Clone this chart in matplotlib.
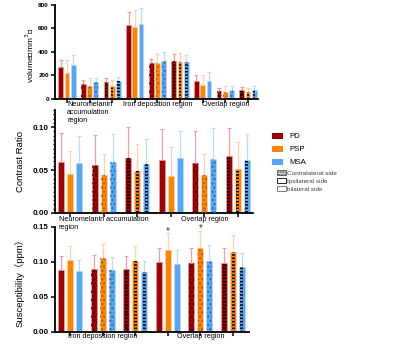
import numpy as np
import matplotlib
matplotlib.use("Agg")
import matplotlib.pyplot as plt
from matplotlib.patches import Patch
from matplotlib.ticker import MultipleLocator, FormatStrFormatter

plt.rcParams['font.family'] = ['Liberation Sans', 'Noto Sans CJK SC', 'DejaVu Sans']
plt.rcParams['hatch.linewidth'] = 1.1

# ---------------- data ----------------
groups = ['PD', 'PSP', 'MSA']
# side pattern of each bar group: bilateral / contralateral / ipsilateral
vol_sides = ['bi', 'contra', 'ipsi'] * 3
side_pattern = ['bi', 'contra', 'ipsi'] * 2

vol_regions = ['Neuromelanin\naccumulation\nregion', 'Iron deposition region', 'Overlap region']
vol_pd = [270, 125, 145, 625, 305, 325, 155, 71, 77]
vol_pd_sd = [60, 35, 35, 110, 35, 55, 50, 20, 23]
vol_psp = [220, 110, 110, 610, 305, 310, 120, 57, 57]
vol_psp_sd = [110, 65, 55, 150, 75, 80, 85, 53, 34]
vol_msa = [290, 140, 150, 635, 325, 315, 155, 77, 77]
vol_msa_sd = [85, 40, 40, 140, 75, 60, 75, 33, 33]

cr_regions = ['Neuromelanin accumulation\nregion', 'Overlap region']
cr_pd = [0.0596, 0.0554, 0.0635, 0.0623, 0.0585, 0.0662]
cr_pd_sd = [0.034, 0.036, 0.037, 0.035, 0.0375, 0.0334]
cr_psp = [0.0454, 0.0442, 0.0485, 0.0427, 0.0442, 0.0512]
cr_psp_sd = [0.0273, 0.0246, 0.0323, 0.0346, 0.0248, 0.0311]
cr_msa = [0.0585, 0.0592, 0.0565, 0.0635, 0.0627, 0.0615]
cr_msa_sd = [0.0307, 0.0331, 0.0293, 0.0315, 0.0358, 0.030]

sus_regions = ['Iron deposition region', 'Overlap region']
sus_pd = [0.089, 0.090, 0.090, 0.0995, 0.099, 0.0986]
sus_pd_sd = [0.020, 0.020, 0.019, 0.0205, 0.021, 0.0214]
sus_psp = [0.1033, 0.105, 0.1014, 0.1176, 0.120, 0.1138]
sus_psp_sd = [0.0197, 0.021, 0.0216, 0.0238, 0.0248, 0.0252]
sus_msa = [0.0876, 0.089, 0.085, 0.0976, 0.102, 0.0929]
sus_msa_sd = [0.0157, 0.0177, 0.017, 0.0191, 0.022, 0.020]
sus_star_psp = [3, 4]   # groups with * above PSP

colors = ['#a00000', '#ff8400', '#55a7f7']
light = ['#e6a3a3', '#ffd3a6', '#bcdcfb']
dot_col = ['#560000', '#b35a00', '#2a6fbf']


def draw_panel(ax, means, sds, sides, gstep, width, fs):
    ax.set_facecolor('none')
    n = len(sides)
    centers = np.arange(n) * gstep
    for k in range(3):
        xs = centers + (k - 1)
        ax.errorbar(xs, means[k], yerr=[np.zeros(n), sds[k]], fmt='none',
                    ecolor=light[k], elinewidth=0.9, capsize=1.6, capthick=0.9, zorder=1)
        ax.bar(xs, means[k], width=width, color=colors[k], edgecolor=light[k],
               linewidth=0.5, zorder=2)
        for i, s in enumerate(sides):
            if s == 'contra':
                ax.bar(xs[i], means[k][i], width=width * 0.8, fill=False, hatch='....',
                       edgecolor=dot_col[k], linewidth=0, zorder=3)
            elif s == 'ipsi':
                ax.bar(xs[i], means[k][i], width=width * 0.5, fill=False, hatch='-----',
                       edgecolor='black', linewidth=0, zorder=3)
    ax.set_xticks(centers)
    ax.set_xticklabels([])
    ax.tick_params(axis='x', length=3, width=1.1, direction='out')
    ax.tick_params(axis='y', length=3, width=1.1, labelsize=fs, pad=1.5)
    ax.spines['top'].set_visible(False)
    ax.spines['right'].set_visible(False)
    ax.spines['left'].set_linewidth(1.3)
    ax.spines['bottom'].set_linewidth(1.3)
    return centers


def bold_ticks(ax):
    for lab in ax.get_yticklabels():
        lab.set_fontweight('bold')


fig = plt.figure(figsize=(4, 3.46), dpi=100)

# ---- volume ----
ax1 = fig.add_axes([0.1375, 0.714, 0.5075, 0.272])
c1 = draw_panel(ax1, [vol_pd, vol_psp, vol_msa], [vol_pd_sd, vol_psp_sd, vol_msa_sd],
                vol_sides, 3.6, 0.75, 4.6)
ax1.set_xlim(-1.9, c1[-1] + 1.6)
ax1.set_ylim(0, 800)
ax1.set_yticks([0, 200, 400, 600, 800])
bold_ticks(ax1)
ax1.set_ylabel('volume（mm$^3$）', fontsize=6)
ax1.yaxis.set_label_coords(-0.10, 0.46)

# ---- contrast ratio ----
ax2 = fig.add_axes([0.1375, 0.3844, 0.495, 0.2977])
c2 = draw_panel(ax2, [cr_pd, cr_psp, cr_msa], [cr_pd_sd, cr_psp_sd, cr_msa_sd],
                side_pattern, 3.73, 0.67, 5.8)
ax2.set_xlim(-1.67, c2[-1] + 1.67)
ax2.set_ylim(0, 0.12)
ax2.set_yticks([0, 0.05, 0.10])
ax2.yaxis.set_major_formatter(FormatStrFormatter('%.2f'))
ax2.yaxis.set_minor_locator(MultipleLocator(0.005))
ax2.tick_params(axis='y', which='minor', length=1.8, width=0.9)
bold_ticks(ax2)
ax2.set_ylabel('Contrast Ratio', fontsize=6.8)
ax2.yaxis.set_label_coords(-0.152, 0.5)

# ---- susceptibility ----
ax3 = fig.add_axes([0.1375, 0.0405, 0.485, 0.3035])
c3 = draw_panel(ax3, [sus_pd, sus_psp, sus_msa], [sus_pd_sd, sus_psp_sd, sus_msa_sd],
                side_pattern, 3.63, 0.67, 5.8)
ax3.set_xlim(-1.67, c3[-1] + 1.78)
ax3.set_ylim(0, 0.15)
ax3.set_yticks([0, 0.05, 0.10, 0.15])
ax3.yaxis.set_major_formatter(FormatStrFormatter('%.2f'))
bold_ticks(ax3)
ax3.set_ylabel('Susceptibility（ppm）', fontsize=6.8)
ax3.yaxis.set_label_coords(-0.155, 0.49)
for g in sus_star_psp:
    ax3.text(c3[g], sus_psp[g] + sus_psp_sd[g] + 0.003, '*', ha='center', va='center',
             fontsize=7, color='#333333', zorder=10)

# region labels drawn at figure level so they sit above neighbouring panels
for j, lab in enumerate(vol_regions):
    fig.text(c1[3 * j + 1], -0.02, lab, transform=ax1.get_xaxis_transform(),
             ha='center', va='top', fontsize=5.2, multialignment='left',
             linespacing=1.25, zorder=10)
for j, lab in enumerate(cr_regions):
    fig.text(c2[3 * j + 1], -0.03, lab, transform=ax2.get_xaxis_transform(),
             ha='center', va='top', fontsize=5.2, multialignment='left',
             linespacing=1.25, zorder=10)
for j, lab in enumerate(sus_regions):
    fig.text(c3[3 * j + 1], -0.01, lab, transform=ax3.get_xaxis_transform(),
             ha='center', va='top', fontsize=5.2, zorder=10)

# ---- legends ----
h1 = [Patch(facecolor=colors[k], edgecolor='none', label=groups[k]) for k in range(3)]
leg1 = fig.legend(handles=h1, loc='upper left', bbox_to_anchor=(0.672, 0.625),
                  frameon=False, fontsize=5.6, handlelength=1.4, handleheight=0.75,
                  labelspacing=0.7, handletextpad=0.9, borderaxespad=0)
h2 = [Patch(facecolor='#dddddd', edgecolor='#555555', hatch='......', linewidth=0.6,
            label='Contralateral side'),
      Patch(facecolor='white', edgecolor='black', hatch='-', linewidth=0.6,
            label='Ipsilateral side'),
      Patch(facecolor='white', edgecolor='#666666', linewidth=0.6, label='bilateral side')]
leg2 = fig.legend(handles=h2, loc='upper left', bbox_to_anchor=(0.685, 0.515),
                  frameon=False, fontsize=4.6, handlelength=1.4, handleheight=0.8,
                  labelspacing=0.35, handletextpad=0.2, borderaxespad=0)
for t in leg2.get_texts():
    t.set_color('#444444')

fig.savefig('out.png', dpi=100)
